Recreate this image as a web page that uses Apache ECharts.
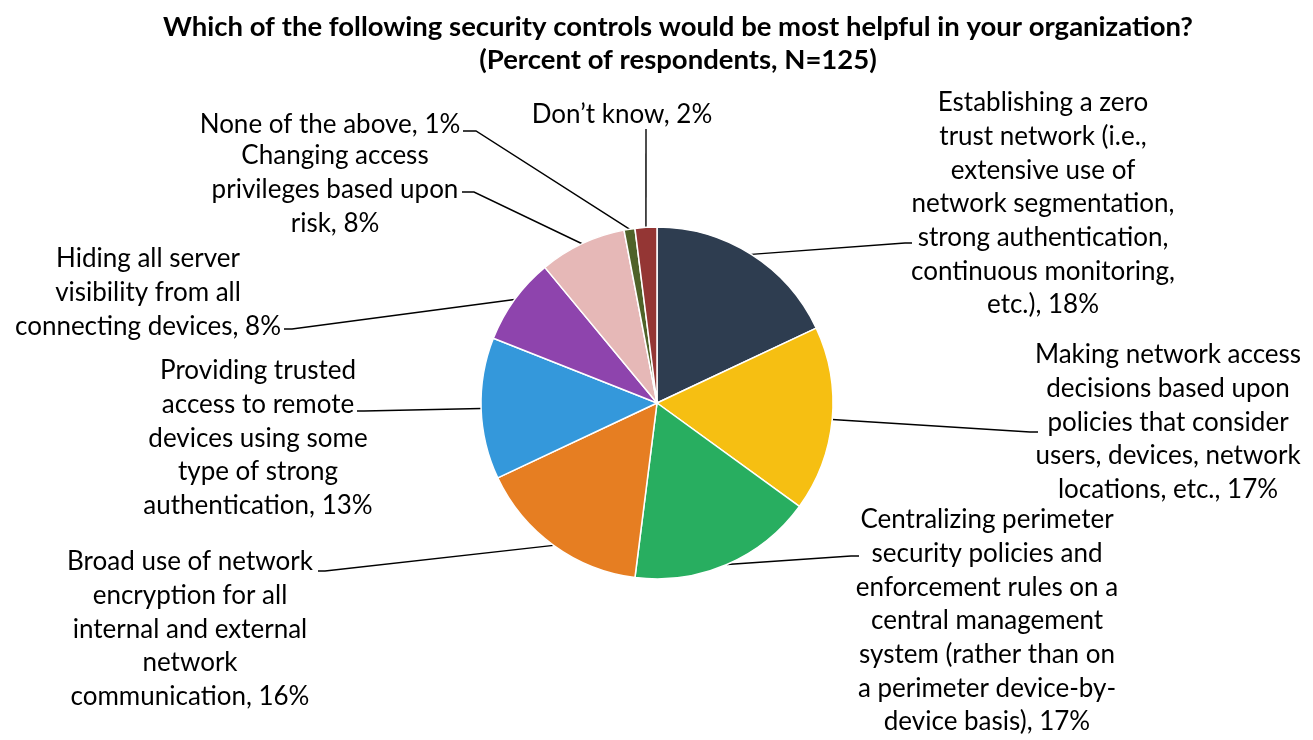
<!DOCTYPE html>
<html>
<head>
<meta charset="utf-8">
<script src="https://cdn.jsdelivr.net/npm/echarts@6/dist/echarts.min.js"></script>
<style>
  html, body { margin: 0; padding: 0; background: #fff; }
  #chart { width: 1313px; height: 740px; }
</style>
</head>
<body>
<div id="chart"></div>
<script>
const titleText = 'Which of the following security controls would be most helpful in your organization?\n(Percent of respondents, N=125)';

const categories = [
  'Establishing a zero\ntrust network (i.e.,\nextensive use of\nnetwork segmentation,\nstrong authentication,\ncontinuous monitoring,\netc.)',
  'Making network access\ndecisions based upon\npolicies that consider\nusers, devices, network\nlocations, etc.',
  'Centralizing perimeter\nsecurity policies and\nenforcement rules on a\ncentral management\nsystem (rather than on\na perimeter device-by-\ndevice basis)',
  'Broad use of network\nencryption for all\ninternal and external\nnetwork\ncommunication',
  'Providing trusted\naccess to remote\ndevices using some\ntype of strong\nauthentication',
  'Hiding all server\nvisibility from all\nconnecting devices',
  'Changing access\nprivileges based upon\nrisk',
  'None of the above',
  'Don\u2019t know'
];

const values = [18, 17, 17, 16, 13, 8, 8, 1, 2];

const colors = ['#2E3D50', '#F6BF12', '#28AE60', '#E67E22', '#3498DB', '#8E44AD', '#E6B8B7', '#4F6228', '#943634'];

// Label layout: text anchor (center x, top y) and leader-line end (elbow, end)
const labelLayoutCfg = [
  { x: 1043, y: 86,  elbow: [905, 243],  end: [912, 243] },
  { x: 1168, y: 338, elbow: [1030, 432], end: [1038, 432] },
  { x: 987,  y: 503, elbow: [851, 556],  end: [859, 556] },
  { x: 190,  y: 545, elbow: [325, 571],  end: [318, 571] },
  { x: 258,  y: 354, elbow: [364, 411],  end: [357, 411] },
  { x: 148,  y: 242, elbow: [292, 329],  end: [284, 329] },
  { x: 335,  y: 139, elbow: [474, 192],  end: [462, 192] },
  { x: 330,  y: 108, elbow: [476, 131],  end: [463, 131] },
  { x: 622,  y: 98,  elbow: [646, 129],  end: [646, 129] }
];

const FONT = 'Lato';
const chart = echarts.init(document.getElementById('chart'), null, { renderer: 'canvas' });

chart.setOption({
  backgroundColor: '#fff',
  animation: false,
  title: {
    text: titleText,
    left: 673,
    top: 6,
    textAlign: 'center',
    textStyle: {
      fontFamily: FONT,
      fontWeight: 'bold',
      fontSize: 27.5,
      lineHeight: 33,
      color: '#000'
    }
  },
  series: [{
    type: 'pie',
    center: [657, 403],
    radius: 176,
    startAngle: 90,
    clockwise: true,
    avoidLabelOverlap: false,
    color: colors,
    itemStyle: { borderColor: '#fff', borderWidth: 1.5 },
    label: {
      show: true,
      position: 'outside',
      formatter: '{b}, {c}%',
      fontFamily: FONT,
      fontSize: 26,
      lineHeight: 33.7,
      color: '#000',
      align: 'center'
    },
    labelLine: {
      show: true,
      length: 20,
      length2: 10,
      lineStyle: { color: '#000', width: 1.4 }
    },
    labelLayout: function (params) {
      const cfg = labelLayoutCfg[params.dataIndex];
      const pts = params.labelLinePoints;
      const start = pts && pts[0] ? pts[0] : cfg.elbow;
      return {
        x: cfg.x,
        y: cfg.y,
        align: 'center',
        verticalAlign: 'top',
        labelLinePoints: [start, cfg.elbow, cfg.end]
      };
    },
    emphasis: { disabled: true },
    data: categories.map((c, i) => ({ name: c, value: values[i] }))
  }]
});
</script>
</body>
</html>
